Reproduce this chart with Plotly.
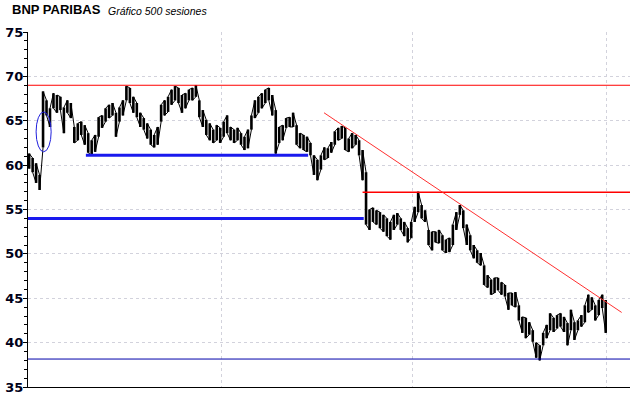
import plotly.graph_objects as go

# ---- data ----
sessions = list(range(0, 499, 3))  # every 3rd of the 500 sessions
hi = [61.3, 60.8, 60.2, 58.9, 68.3, 67.3, 66.4, 68.1, 67.9, 67.7,
      66.5, 67.3, 67.0, 64.3, 64.7, 64.9, 64.5, 63.6, 62.8, 63.4,
      65.4, 65.6, 66.4, 66.8, 67.0, 65.9, 66.5, 67.3, 68.9, 68.7,
      67.7, 67.0, 65.9, 65.3, 64.7, 64.0, 63.4, 64.3, 66.8, 67.3,
      67.7, 68.5, 68.9, 68.7, 67.9, 68.1, 68.5, 68.7, 69.0, 67.3,
      66.2, 65.1, 64.7, 64.0, 64.5, 64.2, 64.9, 65.6, 64.3, 64.0,
      64.2, 63.6, 63.2, 64.0, 65.6, 67.3, 67.7, 68.1, 68.5, 68.7,
      67.9, 66.2, 64.3, 64.5, 65.3, 65.4, 65.9, 64.5, 63.6, 63.4,
      63.2, 62.5, 61.1, 60.6, 61.1, 62.0, 61.9, 62.6, 63.8, 64.2,
      64.4, 64.2, 63.0, 63.6, 63.4, 62.8, 61.7, 59.2, 55.0, 55.2,
      54.9, 54.7, 54.4, 54.0, 53.6, 54.4, 54.6, 54.0, 53.6, 52.9,
      53.6, 55.3, 57.0, 55.5, 54.9, 52.7, 52.5, 52.5, 52.7, 52.1,
      51.6, 51.8, 53.3, 54.7, 55.5, 54.9, 53.3, 52.1, 51.0, 50.4,
      50.1, 48.7, 47.6, 47.1, 47.3, 47.3, 46.8, 46.5, 45.6, 45.6,
      45.7, 44.2, 42.9, 42.8, 42.3, 41.4, 40.0, 39.7, 41.1, 42.0,
      43.3, 42.8, 43.1, 43.3, 42.9, 42.2, 43.7, 42.3, 42.5, 43.1,
      44.2, 45.4, 45.1, 44.2, 44.8, 45.4, 44.8]
lo = [59.6, 59.2, 58.0, 57.2, 62.0, 65.6, 64.3, 66.4, 65.9, 66.2,
      63.6, 65.9, 65.3, 62.5, 62.8, 63.4, 62.3, 61.4, 61.1, 61.5,
      63.2, 64.2, 64.9, 65.3, 65.6, 63.2, 64.9, 65.6, 67.3, 67.0,
      65.9, 65.4, 64.3, 64.0, 63.0, 62.3, 62.0, 62.3, 64.9, 65.6,
      66.0, 66.8, 67.3, 67.0, 65.9, 66.4, 67.3, 67.3, 67.7, 65.4,
      64.3, 63.4, 62.8, 62.5, 62.8, 62.5, 63.2, 63.6, 62.8, 62.5,
      62.8, 62.3, 61.7, 61.9, 64.0, 65.3, 65.9, 66.4, 67.0, 67.3,
      65.6, 61.3, 62.5, 62.8, 64.2, 64.3, 64.3, 62.3, 61.9, 61.7,
      61.5, 61.1, 58.9, 58.3, 59.5, 60.6, 60.8, 61.4, 62.3, 62.8,
      63.0, 61.7, 61.5, 61.9, 62.3, 61.1, 58.3, 53.3, 52.7, 53.6,
      53.3, 52.9, 52.5, 52.0, 51.6, 52.7, 53.3, 52.7, 52.0, 51.3,
      51.8, 53.6, 54.7, 54.0, 53.6, 51.0, 50.4, 51.3, 51.2, 50.4,
      50.1, 50.2, 51.0, 52.7, 54.4, 52.9, 51.0, 50.4, 49.5, 49.0,
      48.7, 46.5, 46.2, 45.4, 45.6, 45.9, 45.4, 45.2, 43.7, 44.2,
      44.0, 42.5, 41.1, 40.5, 40.9, 40.1, 38.3, 38.0, 39.7, 40.5,
      41.4, 41.2, 41.6, 41.8, 41.2, 39.7, 41.4, 40.3, 41.4, 41.8,
      42.3, 43.4, 43.7, 42.5, 43.1, 43.9, 41.1]

y_ticks = [35, 40, 45, 50, 55, 60, 65, 70, 75]
x_grid = [166.5, 331.5, 499]

resistance_red = 69.0
support_navy = 38.15
blue_support_1 = (49, 241, 61.1)     # (from session, to session, level)
blue_support_2 = (-1, 289, 54.0)
red_level = (288, 519, 56.95)
trend_line = ((254.7, 65.9), (511.8, 43.4))
ellipse = (6.0, 19.0, 61.5, 66.0)   # x0, x1, y0, y1

# ---- price bars: vertical high-low segments + thin connecting ribbon ----
bx, by = [], []
rx, ry = [], []
for i, (s, h, l) in enumerate(zip(sessions, hi, lo)):
    bx += [s, s, None]
    by += [l, h, None]
    rx += [s, s]
    ry += [l, h] if i % 2 == 0 else [h, l]

fig = go.Figure()
fig.add_trace(go.Scatter(x=rx, y=ry, mode="lines",
                         line=dict(color="black", width=1.0),
                         hoverinfo="skip", showlegend=False))
fig.add_trace(go.Scatter(x=bx, y=by, mode="lines",
                         line=dict(color="black", width=2.6),
                         hoverinfo="skip", showlegend=False))

X0, X1 = -1, 519
shapes = [
    dict(type="line", xref="x", yref="y", x0=X0, x1=X1, y0=resistance_red, y1=resistance_red,
         line=dict(color="#ff0000", width=1)),
    dict(type="line", xref="x", yref="y", x0=X0, x1=X1, y0=support_navy, y1=support_navy,
         line=dict(color="#0000aa", width=1)),
    dict(type="line", xref="x", yref="y", x0=blue_support_1[0], x1=blue_support_1[1],
         y0=blue_support_1[2], y1=blue_support_1[2], line=dict(color="#1a1aee", width=3)),
    dict(type="line", xref="x", yref="y", x0=blue_support_2[0], x1=blue_support_2[1],
         y0=blue_support_2[2], y1=blue_support_2[2], line=dict(color="#1a1aee", width=3)),
    dict(type="line", xref="x", yref="y", x0=red_level[0], x1=red_level[1],
         y0=red_level[2], y1=red_level[2], line=dict(color="#ff0000", width=1.5)),
    dict(type="line", xref="x", yref="y", x0=trend_line[0][0], y0=trend_line[0][1],
         x1=trend_line[1][0], y1=trend_line[1][1], line=dict(color="#ff3030", width=1)),
    dict(type="circle", xref="x", yref="y", x0=ellipse[0], x1=ellipse[1],
         y0=ellipse[2], y1=ellipse[3], line=dict(color="#2020dd", width=1)),
]

fig.update_layout(
    width=640, height=398,
    margin=dict(l=28, r=10, t=32, b=11, autoexpand=False),
    paper_bgcolor="white", plot_bgcolor="white",
    shapes=shapes,
    showlegend=False,
    annotations=[
        dict(text="<b>BNP PARIBAS</b>", xref="paper", yref="paper",
             x=-0.03, y=1.062, xanchor="left", yanchor="middle", showarrow=False,
             font=dict(family="Arial, Liberation Sans", size=13, color="black")),
        dict(text="<i>Gráfico 500 sesiones</i>", xref="paper", yref="paper",
             x=0.13, y=1.06, xanchor="left", yanchor="middle", showarrow=False,
             font=dict(family="Arial, Liberation Sans", size=10.5, color="black")),
    ],
)
fig.update_xaxes(range=[X0, X1], tickvals=x_grid, showticklabels=False,
                 showgrid=True, gridcolor="#d2d2dc", griddash="dot", gridwidth=1,
                 showline=True, linecolor="black", linewidth=1, ticks="",
                 zeroline=False, mirror=False, automargin=False)
fig.update_yaxes(range=[35, 75], tickvals=y_ticks,
                 showgrid=True, gridcolor="#d2d2dc", griddash="dot", gridwidth=1,
                 showline=True, linecolor="black", linewidth=1,
                 ticks="outside", ticklen=4, tickcolor="black", tickwidth=1,
                 minor=dict(ticks="outside", ticklen=3, dtick=1, tickcolor="black", showgrid=False),
                 tickfont=dict(family="DejaVu Sans", size=13, color="#000018", weight="bold"),
                 ticklabelstandoff=-3,
                 zeroline=False, automargin=False)

# remove the default page margin so the figure sits at the top-left corner
fig.write_html("out.html", config={"displayModeBar": False},
               post_script="document.body.style.margin='0';")
